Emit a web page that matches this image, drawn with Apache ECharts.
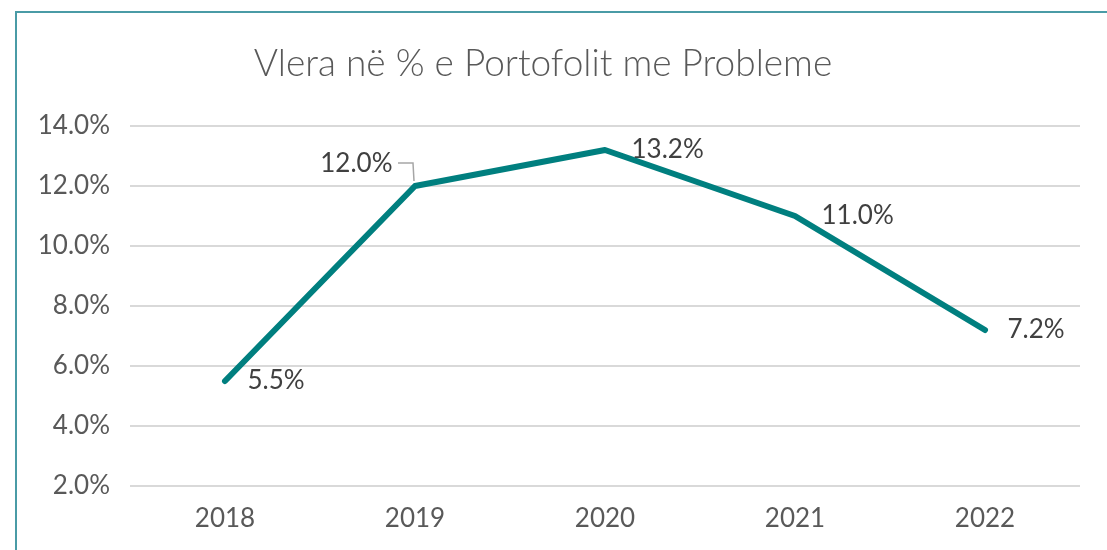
<!DOCTYPE html>
<html>
<head>
<meta charset="utf-8">
<script src="https://cdn.jsdelivr.net/npm/echarts@6/dist/echarts.min.js"></script>
<style>
  html, body { margin: 0; padding: 0; background: #fff; }
  #myChart { width: 1107px; height: 550px; }
</style>
</head>
<body>
<div id="myChart"></div>
<script>
var years = ['2018', '2019', '2020', '2021', '2022'];
var values = [5.5, 12.0, 13.2, 11.0, 7.2];
var yTicks = [2, 4, 6, 8, 10, 12, 14];
var titleText = 'Vlera në % e Portofolit me Probleme';

var myChart_1 = echarts.init(document.getElementById('myChart'));
var fontName = 'Lato';

// label placement per point, like the excel original
var labelPos = ['right', 'left', 'right', 'right', 'right'];
var labelOffset = [[0, 0], [0, -22], [4, 0], [4, 0], [0, 0]];

var seriesData = values.map(function (v, i) {
    return {
        value: v,
        label: { position: labelPos[i], offset: labelOffset[i] }
    };
});

var option = {
    animation: false,
    title: {
        text: titleText, left: 538, top: 41, textAlign: 'center',
        textStyle: { fontFamily: fontName, fontWeight: 300, fontSize: 37, color: '#595959' }
    },
    graphic: [{
        type: 'rect', shape: { x: 16, y: 12, width: 1200, height: 600 },
        style: { fill: null, stroke: '#4a9ba6', lineWidth: 2 }, silent: true
    }, {
        // leader line of the 12.0% label
        type: 'polyline', silent: true, z: 10,
        shape: { points: [[398, 163], [413, 163], [414, 181]] },
        style: { stroke: '#a6a6a6', lineWidth: 1.5, fill: null }
    }],
    grid: { left: 130, right: 27, top: 126, bottom: 64 },
    xAxis: {
        type: 'category',
        data: years,
        boundaryGap: true,
        axisLine: { show: false },
        axisTick: { show: false },
        axisLabel: { margin: 20, fontFamily: fontName, fontSize: 26, color: '#595959' }
    },
    yAxis: {
        type: 'value',
        min: yTicks[0],
        max: yTicks[yTicks.length - 1],
        interval: 2,
        axisLine: { show: false },
        axisTick: { show: false },
        splitLine: { show: true, lineStyle: { color: '#d9d9d9', width: 2 } },
        axisLabel: {
            margin: 20, fontFamily: fontName, fontSize: 26, color: '#595959',
            formatter: function (v) { return v.toFixed(1) + '%'; }
        }
    },
    series: [{
        type: 'line',
        data: seriesData,
        symbol: 'circle',
        symbolSize: 1,
        showSymbol: true,
        itemStyle: { color: '#007f7f' },
        lineStyle: { color: '#007f7f', width: 6, cap: 'round', join: 'round' },
        label: {
            show: true, distance: 22, fontFamily: fontName, fontSize: 26, color: '#404040',
            formatter: function (p) { return p.value.toFixed(1) + '%'; }
        }
    }]
};
myChart_1.setOption(option);
</script>
</body>
</html>
